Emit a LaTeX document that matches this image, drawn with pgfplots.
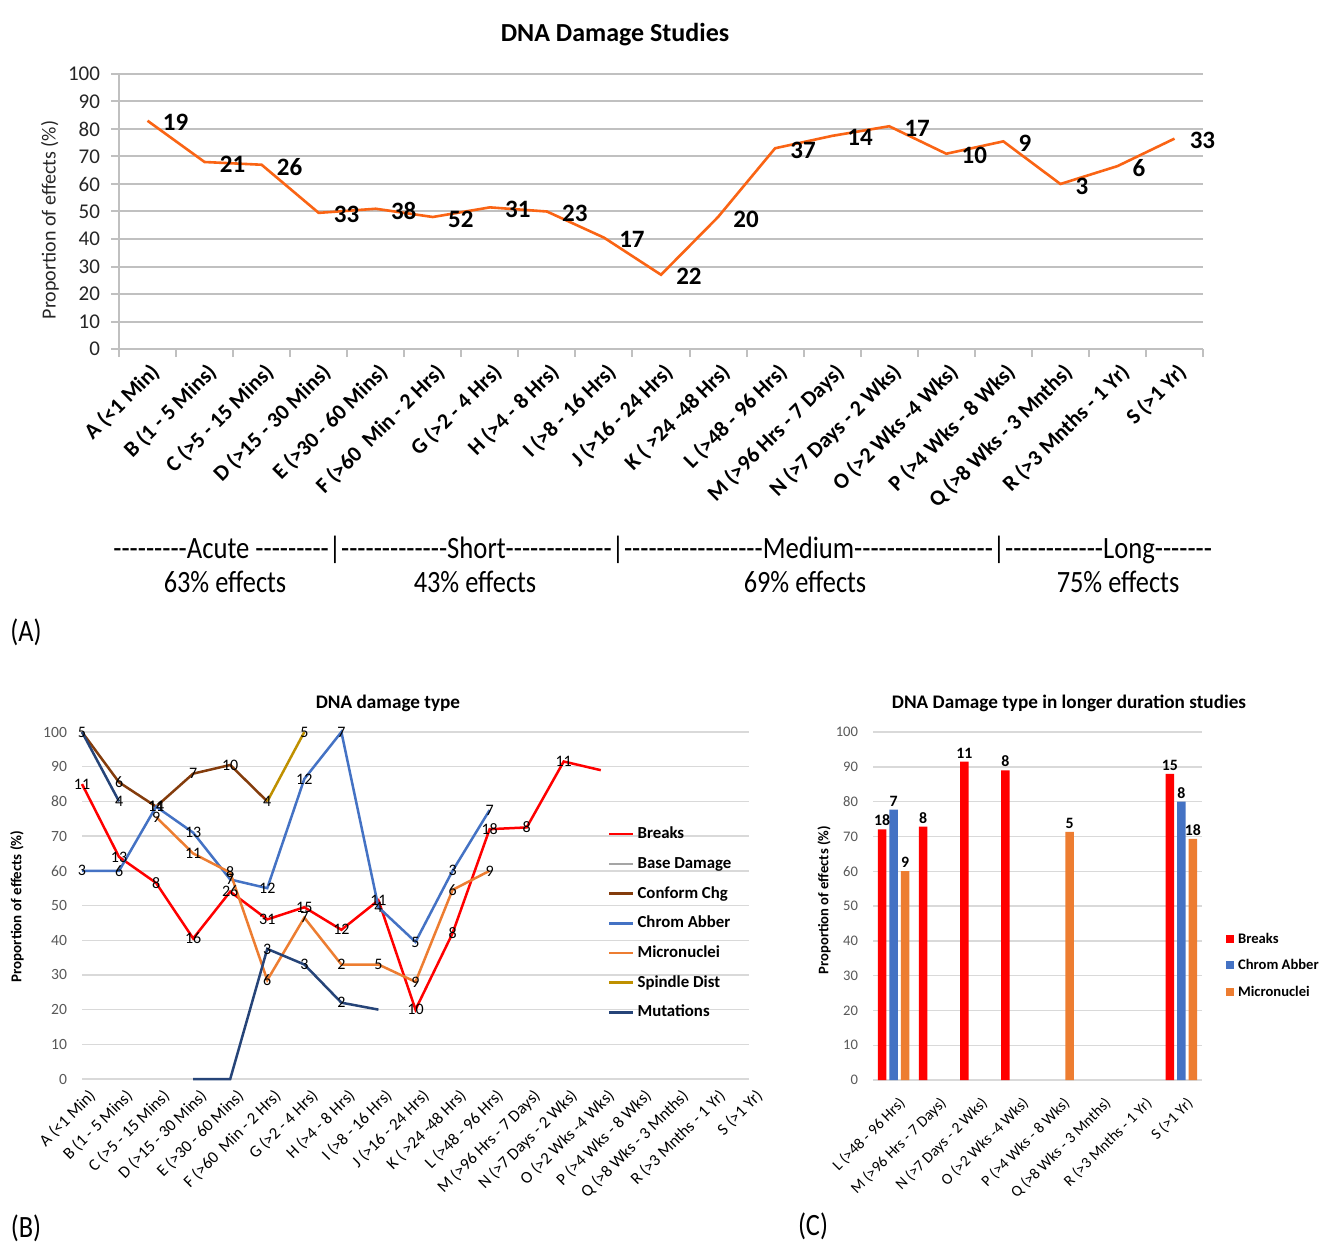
\documentclass[border=0pt]{standalone}
\usepackage{pgfplots}
\pgfplotsset{compat=1.18}
\usepackage{graphicx}
\usepackage{fontspec}
\setmainfont{Carlito}
\pgfplotsset{/pgf/number format/assume math mode=true}

\definecolor{lineA}{RGB}{250,100,20}
\definecolor{gridA}{RGB}{192,192,192}
\definecolor{gridB}{RGB}{217,217,217}
\definecolor{cBreaks}{RGB}{255,0,0}
\definecolor{cBase}{RGB}{165,165,165}
\definecolor{cConf}{RGB}{132,60,12}
\definecolor{cChrom}{RGB}{68,114,196}
\definecolor{cMicro}{RGB}{237,125,49}
\definecolor{cSpin}{RGB}{191,144,0}
\definecolor{cMut}{RGB}{38,68,120}
\definecolor{tickgray}{RGB}{89,89,89}

\newcommand\fs[1]{\fontsize{#1}{#1}\selectfont}
\newcommand\dd[1]{\foreach\k in {1,...,#1}{\mbox{-}}}

\begin{document}
\begin{tikzpicture}
\useasboundingbox (0,0) rectangle (662.5pt,-625.5pt);
\fill[white] (0,0) rectangle (662.5pt,-625.5pt);

% ---------------- Panel A ----------------
\begin{axis}[
  at={(59.5pt,-37pt)}, anchor=north west,
  scale only axis, width=542pt, height=137.5pt, clip=false,
  xmin=-0.5, xmax=18.5, ymin=0, ymax=100,
  xtick={0,...,18}, minor xtick={-0.5,0.5,...,18.5},
  ytick={0,10,...,100},
  xticklabels={A (<1 Min), B (1 - 5 Mins), C (>5 - 15 Mins), D (>15 - 30 Mins), E (>30 - 60 Mins), F (>60\ \ Min - 2 Hrs), G (>2 - 4 Hrs), H (>4 - 8 Hrs), I (>8 - 16 Hrs), J (>16 - 24 Hrs), K ( >24 -48 Hrs), L (>48 - 96 Hrs), M (>96 Hrs - 7 Days), N (>7 Days - 2 Wks), O (>2 Wks -4 Wks), P (>4 Wks - 8 Wks), Q (>8 Wks - 3 Mnths), R (>3 Mnths - 1 Yr), S (>1 Yr)},
  axis x line*=bottom, axis y line*=left,
  axis line style={gridA, line width=1pt, -},
  ymajorgrids, grid style={gridA, line width=1pt},
  tick align=outside, major tick length=4pt, minor tick length=4pt,
  every major x tick/.append style={draw=none},
  every minor x tick/.append style={draw=gridA, line width=1pt},
  every major y tick/.append style={draw=gridA, line width=1pt},
  xticklabel style={rotate=45, anchor=north east, font=\fs{11}\bfseries, inner sep=1pt, yshift=-1pt},
  yticklabel style={font=\fs{10.5}, text=black!85, xshift=-2pt},
  ylabel={Proportion of effects (\%)},
  every axis y label/.style={at={(axis description cs:-0.0637,0.469)}, rotate=90, anchor=center, font=\fs{10}, text=black!85},
]
\addplot[lineA, line width=1.3pt, no markers, point meta=explicit symbolic,
  nodes near coords, nodes near coords style={anchor=west, xshift=6pt, yshift=-1pt, font=\fs{12.5}\bfseries, text=black, inner sep=1pt}]
  coordinates {(0,83)[19] (1,68)[21] (2,67)[26] (3,49.5)[33] (4,51)[38] (5,48)[52] (6,51.5)[31] (7,50)[23] (8,40.5)[17] (9,27)[22] (10,48)[20] (11,73)[37] (12,77.5)[14] (13,81)[17] (14,71)[10] (15,75.5)[9] (16,60)[3] (17,66.5)[6] (18,76.5)[33]};
\end{axis}

% ---------------- Panel B ----------------
\begin{axis}[
  at={(41pt,-366pt)}, anchor=north west,
  scale only axis, width=333.5pt, height=173.5pt, clip=false,
  xmin=0, xmax=18, ymin=0, ymax=100,
  xtick={0,...,18}, ytick={0,10,...,100},
  xticklabels={A (<1 Min), B (1 - 5 Mins), C (>5 - 15 Mins), D (>15 - 30 Mins), E (>30 - 60 Mins), F (>60\ \ Min - 2 Hrs), G (>2 - 4 Hrs), H (>4 - 8 Hrs), I (>8 - 16 Hrs), J (>16 - 24 Hrs), K ( >24 -48 Hrs), L (>48 - 96 Hrs), M (>96 Hrs - 7 Days), N (>7 Days - 2 Wks), O (>2 Wks -4 Wks), P (>4 Wks - 8 Wks), Q (>8 Wks - 3 Mnths), R (>3 Mnths - 1 Yr), S (>1 Yr)},
  axis line style={draw=none}, tick style={draw=none},
  ymajorgrids, grid style={gridB, line width=0.7pt},
  xticklabel style={rotate=45, anchor=north east, font=\fs{8.4}, inner sep=1pt, yshift=-4pt, text=black},
  yticklabel style={font=\fs{7.8}, text=tickgray, xshift=-4pt},
  ylabel={Proportion of effects (\%)},
  every axis y label/.style={at={(axis description cs:-0.0975,0.497)}, rotate=90, anchor=center, font=\fs{7.5}\bfseries},
  unbounded coords=jump,
  point meta=explicit symbolic,
  nodes near coords, nodes near coords style={anchor=center, font=\fs{8}, text=black, inner sep=0pt},
  legend style={at={(axis description cs:0.779,0.74)}, anchor=north west, draw=none, fill=none,
    font=\fs{8.4}\bfseries, nodes={inner sep=0pt, text height=6pt, text depth=1.5pt},
    row sep=7.35pt, /tikz/every odd column/.append style={column sep=1.5pt}},
  legend cell align=left,
  legend image code/.code={\draw[#1, line width=1.3pt] (0pt,0pt) -- (12pt,0pt);},
]
\addplot[cBreaks, line width=1.25pt, no markers] coordinates {(0,85)[11] (1,64)[13] (2,56.5)[8] (3,40.5)[16] (4,54)[26] (5,46)[31] (6,49.5)[15] (7,43)[12] (8,51.5)[11] (9,20)[10] (10,42)[8] (11,72)[18] (12,72.5)[8] (13,91.5)[11] (14,89)[]};
\addlegendentry{Breaks}
\addlegendimage{cBase, line width=1.25pt}
\addlegendentry{Base Damage}
\addplot[cConf, line width=1.25pt, no markers] coordinates {(0,100)[5] (1,85.5)[6] (2,78.5)[11] (3,88)[7] (4,90.5)[10] (5,80)[4]};
\addlegendentry{Conform Chg}
\addplot[cChrom, line width=1.25pt, no markers] coordinates {(0,60)[3] (1,60)[6] (2,78.5)[14] (3,71)[13] (4,57.5)[7] (5,55)[12] (6,86.5)[12] (7,100)[7] (8,49.5)[4] (9,39.5)[5] (10,60)[3] (11,77.5)[7]};
\addlegendentry{Chrom Abber}
\addplot[cMicro, line width=1.25pt, no markers] coordinates {(2,75.5)[9] (3,65)[11] (4,59.5)[8] (5,28.5)[6] (6,46.5)[7] (7,33)[2] (8,33)[5] (9,28)[9] (10,54.5)[6] (11,60)[9]};
\addlegendentry{Micronuclei}
\addplot[cSpin, line width=1.25pt, no markers] coordinates {(5,80)[] (6,100)[5]};
\addlegendentry{Spindle Dist}
\addplot[cMut, line width=1.25pt, no markers] coordinates {(0,100)[] (1,80)[4] (2,nan)[] (3,0)[] (4,0)[] (5,37.5)[3] (6,33)[3] (7,22)[2] (8,20)[]};
\addlegendentry{Mutations}
\end{axis}

% ---------------- Panel C ----------------
\begin{axis}[
  at={(436.5pt,-366pt)}, anchor=north west,
  scale only axis, width=164.5pt, height=174pt, clip=false,
  ybar=1.5pt, bar width=4.25pt,
  xmin=-0.5, xmax=7.5, ymin=0, ymax=100,
  xtick={0,...,7}, ytick={0,10,...,100},
  xticklabels={L (>48 - 96 Hrs), M (>96 Hrs - 7 Days), N (>7 Days - 2 Wks), O (>2 Wks -4 Wks), P (>4 Wks - 8 Wks), Q (>8 Wks - 3 Mnths), R (>3 Mnths - 1 Yr), S (>1 Yr)},
  axis line style={draw=none}, tick style={draw=none},
  ymajorgrids, grid style={gridB, line width=0.7pt},
  xticklabel style={rotate=45, anchor=north east, font=\fs{7.8}, inner sep=1pt, yshift=-3pt, text=black},
  yticklabel style={font=\fs{7.3}, text=tickgray, xshift=-4pt},
  ylabel={Proportion of effects (\%)},
  every axis y label/.style={at={(axis description cs:-0.149,0.517)}, rotate=90, anchor=center, font=\fs{7.3}\bfseries},
  point meta=explicit symbolic,
  nodes near coords, nodes near coords style={font=\fs{7.9}\bfseries, text=black, inner sep=1.5pt},
  legend style={at={(axis description cs:1.055,0.44)}, anchor=north west, draw=none, fill=none,
    font=\fs{7.3}\bfseries, nodes={inner sep=0pt, text height=6pt, text depth=1.5pt},
    row sep=5.75pt, /tikz/every odd column/.append style={column sep=2pt}},
  legend cell align=left,
  every axis plot/.append style={legend image code/.code={\fill[##1] (0pt,-1.9pt) rectangle (3.8pt,1.9pt);}},
]
\addplot[fill=cBreaks, draw=none] coordinates {(0,72)[18] (1,72.8)[8] (2,91.5)[11] (3,89)[8] (7,88)[15]};
\addlegendentry{Breaks}
\addplot[fill=cChrom, draw=none] coordinates {(0,77.7)[7] (7,80)[8]};
\addlegendentry{Chrom Abber}
\addplot[fill=cMicro, draw=none] coordinates {(0,60)[9] (4,71.3)[5] (7,69.3)[18]};
\addlegendentry{Micronuclei}
\end{axis}

% ---------------- Texts ----------------
\node[font=\fs{13}\bfseries] at (307.5pt,-17.5pt) {DNA Damage Studies};
\node[font=\fs{9.6}\bfseries] at (194pt,-351.5pt) {DNA damage type};
\node[font=\fs{9.6}\bfseries] at (534.5pt,-351.5pt) {DNA Damage type in longer duration studies};

\node[anchor=base west, inner sep=0pt] at (56.5pt,-279pt) {\resizebox{549.5pt}{\height}{\fs{15.5}\dd{9}Acute \dd{9}|\dd{13}Short\dd{13}|\dd{17}Medium\dd{17}|\dd{12}Long\dd{7}}};
\node[anchor=base, inner sep=0pt] at (112.5pt,-296pt) {\scalebox{0.85}[1]{\fs{15.5}63\% effects}};
\node[anchor=base, inner sep=0pt] at (237.5pt,-296pt) {\scalebox{0.85}[1]{\fs{15.5}43\% effects}};
\node[anchor=base, inner sep=0pt] at (402.5pt,-296pt) {\scalebox{0.85}[1]{\fs{15.5}69\% effects}};
\node[anchor=base, inner sep=0pt] at (559pt,-296pt) {\scalebox{0.85}[1]{\fs{15.5}75\% effects}};

\node[inner sep=0pt] at (13pt,-316pt) {\scalebox{0.85}[1]{\fs{15.5}(A)}};
\node[inner sep=0pt] at (13pt,-614pt) {\scalebox{0.85}[1]{\fs{15.5}(B)}};
\node[inner sep=0pt] at (406.5pt,-613pt) {\scalebox{0.85}[1]{\fs{15.5}(C)}};
\end{tikzpicture}
\end{document}
